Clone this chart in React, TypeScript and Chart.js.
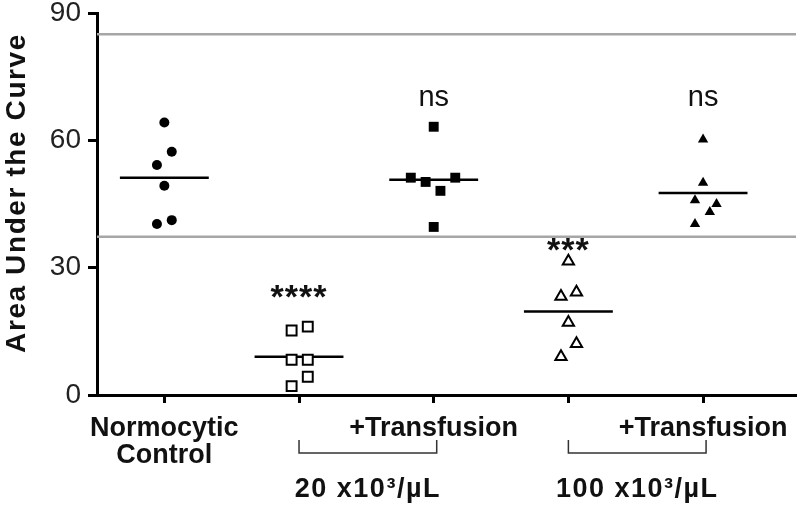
import React, { useEffect, useRef } from 'react';
import { Chart, registerables } from 'chart.js';
Chart.register(...registerables);

// ---- data ----
const categories: (string | string[])[] = [['Normocytic', 'Control'], '', '+Transfusion', '', '+Transfusion'];
const normocytic = [64.2, 57.3, 54.2, 49.3, 41.2, 40.3];
const plt20 = [15.2, 16.1, 8.3, 8.3, 4.3, 2.1];
const plt20Tx = [63.2, 51.2, 50.2, 48.1, 51.2, 39.6];
const plt100 = [31.5, 23.2, 24.2, 17.1, 12.1, 9.0];
const plt100Tx = [60.2, 50.0, 45.9, 45.0, 43.1, 40.3];
const groupMeans = [51.2, 9.0, 50.7, 19.7, 47.6];
const sigLabels = ['', '****', 'ns', '***', 'ns'];
const sigY = [0, 20.5, 68.2, 31.5, 68.2];
const refLines = [85, 37.3];
const yTickValues = [0, 30, 60, 90];
const bracketLabels = ['20 x10³/µL', '100 x10³/µL'];
const bracketFrom = [1, 3];
const bracketTo = [2, 4];
const yTitle = 'Area Under the Curve';

// horizontal scatter offsets (column-scatter layout), in category units
const jitter = [
  [0, 0.055, -0.055, 0, 0.055, -0.055],
  [-0.055, 0.065, -0.055, 0.065, 0.065, -0.055],
  [0, -0.17, -0.06, 0.05, 0.16, 0],
  [0, -0.055, 0.06, 0, 0.06, -0.055],
  [0, 0, -0.06, 0.1, 0.05, -0.06],
];

const groups = [normocytic, plt20, plt20Tx, plt100, plt100Tx];
const styles = [
  { pointStyle: 'circle', radius: 5, fill: '#000', border: 0 },
  { pointStyle: 'rect', radius: 7, fill: '#fff', border: 2 },
  { pointStyle: 'rect', radius: 7, fill: '#000', border: 0 },
  { pointStyle: 'triangle', radius: 6.5, fill: '#fff', border: 2 },
  { pointStyle: 'triangle', radius: 6, fill: '#000', border: 0 },
];

const FONT = '"Liberation Sans", Arial, sans-serif';

const overlayPlugin = {
  id: 'overlay',
  afterDraw(chart: any) {
    const ctx = chart.ctx as CanvasRenderingContext2D;
    const xs = chart.scales.x;
    const ys = chart.scales.y;
    ctx.save();
    ctx.fillStyle = '#111';
    // significance labels
    sigLabels.forEach((s, i) => {
      if (!s) return;
      const isStar = s.startsWith('*');
      ctx.font = isStar ? `bold 34px ${FONT}` : `29px ${FONT}`;
      (ctx as any).letterSpacing = isStar ? '1px' : '0px';
      ctx.textAlign = 'center';
      ctx.textBaseline = 'alphabetic';
      ctx.fillText(s, xs.getPixelForValue(i), ys.getPixelForValue(sigY[i]));
    });
    // brackets
    ctx.strokeStyle = '#333';
    ctx.lineWidth = 1.5;
    const top = ys.bottom + 45;
    const bot = top + 13;
    bracketLabels.forEach((lab, k) => {
      const x1 = xs.getPixelForValue(bracketFrom[k]);
      const x2 = xs.getPixelForValue(bracketTo[k]) + 3;
      ctx.beginPath();
      ctx.moveTo(x1, top);
      ctx.lineTo(x1, bot);
      ctx.lineTo(x2, bot);
      ctx.lineTo(x2, top);
      ctx.stroke();
      ctx.font = `bold 27px ${FONT}`;
      (ctx as any).letterSpacing = '1.5px';
      ctx.textAlign = 'center';
      ctx.textBaseline = 'alphabetic';
      ctx.fillText(lab, (x1 + x2) / 2, bot + 44);
    });
    // y title
    ctx.translate(17, 193);
    ctx.rotate(-Math.PI / 2);
    ctx.font = `bold 28px ${FONT}`;
    (ctx as any).letterSpacing = '1.6px';
    ctx.textAlign = 'center';
    ctx.textBaseline = 'middle';
    ctx.fillText(yTitle, 0, 0);
    ctx.restore();
  },
};

export default function App() {
  const ref = useRef<HTMLCanvasElement>(null);
  useEffect(() => {
    if (!ref.current) return;
    const pointSets = groups.map((vals, g) => ({
      data: vals.map((v, i) => ({ x: g + jitter[g][i], y: v })),
      pointStyle: styles[g].pointStyle,
      pointRadius: styles[g].radius,
      backgroundColor: styles[g].fill,
      borderColor: '#000',
      borderWidth: styles[g].border,
      showLine: false,
      order: 0,
    }));
    const meanSets = groupMeans.map((m, g) => ({
      data: [{ x: g - 0.33, y: m }, { x: g + 0.33, y: m }],
      showLine: true,
      pointRadius: 0,
      borderColor: '#000',
      borderWidth: 2.5,
      order: 1,
    }));
    const refSets = refLines.map((v) => ({
      data: [{ x: -0.5, y: v }, { x: 4.8, y: v }],
      showLine: true,
      pointRadius: 0,
      borderColor: '#a6a6a6',
      borderWidth: 2.5,
      order: 2,
    }));
    const chart = new Chart(ref.current, {
      type: 'scatter',
      data: { datasets: [...pointSets, ...meanSets, ...refSets] as any },
      options: {
        animation: false,
        responsive: false,
        layout: { padding: { top: 13, right: 0, left: 0, bottom: 0 } },
        plugins: { legend: { display: false }, tooltip: { enabled: false } },
        scales: {
          x: {
            type: 'linear',
            min: -0.5,
            max: 4.69,
            afterBuildTicks: (s: any) => {
              s.ticks = categories.map((_, i) => ({ value: i }));
            },
            afterFit: (s: any) => {
              s.height = 112;
              s.paddingLeft = 0;
              s.paddingRight = 0;
            },
            grid: { display: true, drawOnChartArea: false, drawTicks: true, tickLength: 8, tickWidth: 3, color: '#000' },
            border: { display: true, color: '#000', width: 3 },
            ticks: {
              autoSkip: false,
              maxRotation: 0,
              padding: 12,
              color: '#111',
              font: { family: FONT, size: 27, weight: 'bold', lineHeight: 1.0 },
              callback: (v: any) => categories[Math.round(v)] ?? '',
            },
          },
          y: {
            type: 'linear',
            min: 0,
            max: 90,
            afterBuildTicks: (s: any) => {
              s.ticks = yTickValues.map((v) => ({ value: v }));
            },
            afterFit: (s: any) => {
              s.width = 97;
              s.paddingTop = 0;
              s.paddingBottom = 0;
            },
            grid: { display: true, drawOnChartArea: false, drawTicks: true, tickLength: 9, tickWidth: 3, color: '#000' },
            border: { display: true, color: '#000', width: 3 },
            ticks: {
              padding: 7,
              color: '#222',
              font: { family: FONT, size: 28 },
            },
          },
        },
      },
      plugins: [overlayPlugin],
    });
    return () => chart.destroy();
  }, []);
  return (
    <div style={{ position: 'absolute', left: 0, top: 0, width: 800, height: 507, overflow: 'hidden', background: '#fff' }}>
      <canvas ref={ref} width={805} height={507} style={{ display: 'block' }} />
    </div>
  );
}
